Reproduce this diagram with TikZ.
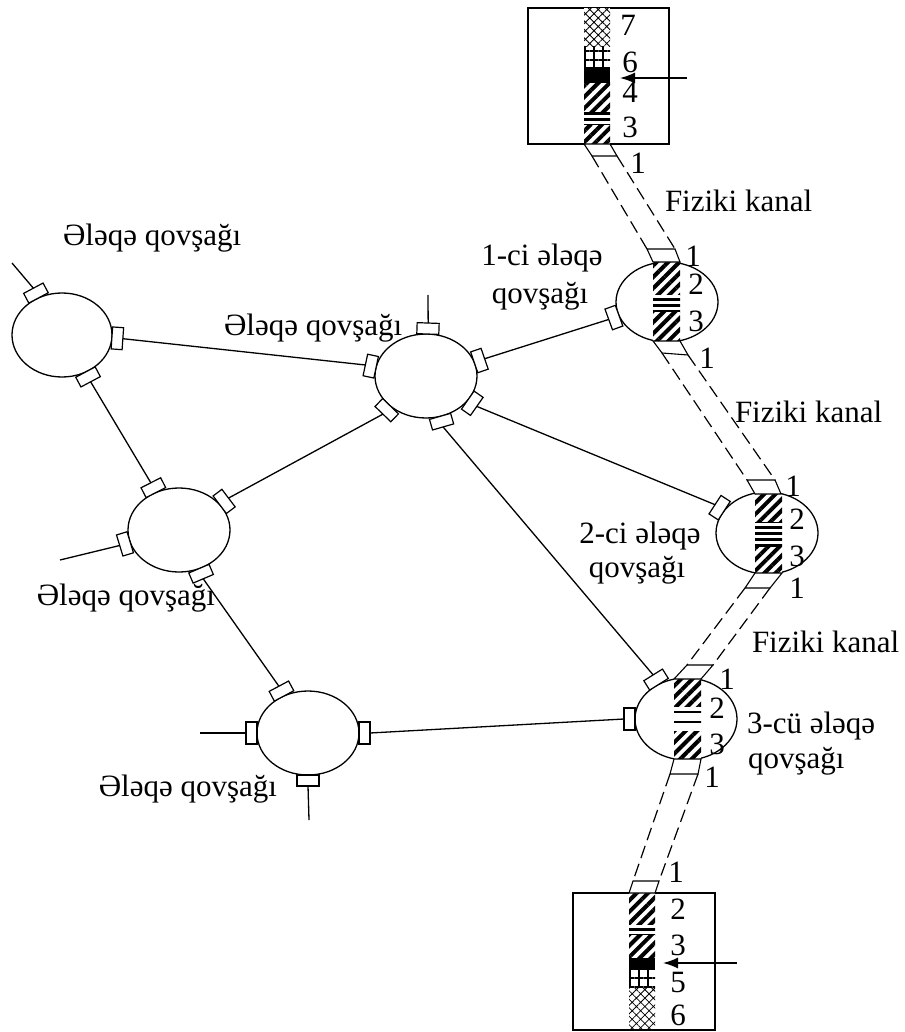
\documentclass[tikz,border=0pt]{standalone}
\usepackage{fontspec}
\setmainfont{Liberation Serif}
\usetikzlibrary{shapes.geometric,patterns.meta,arrows.meta,calc}
\begin{document}
\begin{tikzpicture}[x=1pt,y=1pt,line width=1.3pt,
  every node/.style={inner sep=0pt,outer sep=0pt},
  lbl/.style={font=\fontsize{31}{36}\selectfont},
  knot/.style={ellipse,draw,minimum width=102pt,minimum height=84pt},
  port/.style={rectangle,draw,fill=white,line width=1.2pt,minimum width=22pt,minimum height=11pt,anchor=south},
  chan/.style={dash pattern=on 13pt off 6pt,line width=1.2pt},
  chend/.style={draw,fill=white,line width=1.1pt},
  sdiag/.style={preaction={fill=white},pattern={Lines[angle=45,distance=8pt,line width=4pt]}},
  shl/.style={preaction={fill=white},pattern={Lines[angle=0,distance=6pt,line width=3pt]}},
  shlw/.style={preaction={fill=white},pattern={Lines[angle=0,distance=10pt,line width=2pt]}},
  sbox/.style={preaction={fill=white},pattern={Hatch[angle=0,distance=9pt,line width=1.2pt]}},
  sx/.style={preaction={fill=white},pattern={Hatch[angle=45,distance=6pt,line width=0.8pt]}},
  sblk/.style={fill=black},
  arr/.style={-{Latex[length=15pt,width=11pt]},line width=1.5pt}
]
\useasboundingbox (0,0) rectangle (904,-1032);

% knots
\node[knot,minimum width=100pt] (A) at (62,-335) {};
\node[knot] (B) at (426,-376) {};
\node[knot] (C) at (179,-530) {};
\node[knot] (D) at (308,-733) {};
\node[knot,minimum height=80pt] (N1) at (667,-302) {};
\node[knot,minimum height=82pt] (N2) at (767,-533) {};
\node[knot,minimum height=82pt] (N3) at (686,-719) {};

% terminal boxes
\node[draw,minimum width=141pt,minimum height=136pt] (T) at (598.5,-76) {};
\node[draw,minimum width=142pt,minimum height=137pt] (Bt) at (644,-961.5) {};

% strips
\path[sx]   (584,-8)   rectangle (610,-47);
\path[sbox] (584,-47)  rectangle (610,-67);
\path[sblk] (584,-67)  rectangle (610,-83);
\path[sdiag](584,-83)  rectangle (610,-113);
\path[shl]  (584,-113) rectangle (610,-125);
\path[sdiag](584,-125) rectangle (610,-144);

\path[sdiag](653,-262) rectangle (680,-295);
\path[shl]  (653,-295) rectangle (680,-312);
\path[sdiag](653,-312) rectangle (680,-341);

\path[sdiag](755,-494) rectangle (782,-522);
\path[shl]  (755,-522) rectangle (782,-547);
\path[sdiag](755,-547) rectangle (782,-573);

\path[sdiag](674,-679) rectangle (701,-707);
\path[shlw] (674,-707) rectangle (701,-731);
\path[sdiag](674,-731) rectangle (701,-759);

\path[sdiag](629,-893) rectangle (655,-925);
\path[shl]  (629,-925) rectangle (655,-935);
\path[sdiag](629,-935) rectangle (655,-958);
\path[sblk] (629,-958) rectangle (655,-970);
\path[sbox] (629,-970) rectangle (655,-988);
\path[sx]   (629,-988) rectangle (655,-1030);
\draw (573,-1030) -- (715,-1030);

% channel end pieces
\coordinate (a1) at (584,-144); \coordinate (a2) at (610,-144);
\coordinate (a3) at (617,-156); \coordinate (a4) at (592,-156);
\coordinate (b1) at (647,-249); \coordinate (b2) at (675,-249);
\coordinate (b3) at (680,-262); \coordinate (b4) at (653,-262);
\coordinate (c1) at (653,-341); \coordinate (c2) at (680,-341);
\coordinate (c3) at (688,-355); \coordinate (c4) at (662,-353);
\coordinate (d1) at (747,-480); \coordinate (d2) at (775,-480);
\coordinate (d3) at (781,-494); \coordinate (d4) at (755,-494);
\coordinate (e1) at (755,-573); \coordinate (e2) at (782,-573);
\coordinate (e3) at (770,-588); \coordinate (e4) at (745,-588);
\coordinate (f1) at (687,-665); \coordinate (f2) at (713,-665);
\coordinate (f3) at (701,-679); \coordinate (f4) at (674,-679);
\coordinate (g1) at (674,-759); \coordinate (g2) at (701,-759);
\coordinate (g3) at (698,-774); \coordinate (g4) at (670,-774);
\coordinate (h1) at (633,-881); \coordinate (h2) at (659,-881);
\coordinate (h3) at (655,-893); \coordinate (h4) at (629,-893);
\draw[chend] (a1) -- (a2) -- (a3) -- (a4) -- cycle;
\draw[chend] (b1) -- (b2) -- (b3) -- (b4) -- cycle;
\draw[chend] (c1) -- (c2) -- (c3) -- (c4) -- cycle;
\draw[chend] (d1) -- (d2) -- (d3) -- (d4) -- cycle;
\draw[chend] (e1) -- (e2) -- (e3) -- (e4) -- cycle;
\draw[chend] (f1) -- (f2) -- (f3) -- (f4) -- cycle;
\draw[chend] (g1) -- (g2) -- (g3) -- (g4) -- cycle;
\draw[chend] (h1) -- (h2) -- (h3) -- (h4) -- cycle;

% physical channels
\draw[chan] (a4) -- (b1); \draw[chan] (a3) -- (b2);
\draw[chan] (c4) -- (d1); \draw[chan] (c3) -- (d2);
\draw[chan] (e4) -- (f1); \draw[chan] (e3) -- (f2);
\draw[chan] (g4) -- (h1); \draw[chan] (g3) -- (h2);

% ports
\node[port,rotate=28]   (pA1) at ($(A.center)+(118:50pt and 42pt)$) {};
\node[port,rotate=-94]  (pA2) at ($(A.center)+(-4:50pt and 42pt)$) {};
\node[port,rotate=-152] (pA3) at ($(A.center)+(-62:50pt and 42pt)$) {};
\node[port,rotate=78]   (pB1) at ($(B.center)+(168:51pt and 42pt)$) {};
\node[port,rotate=-2]   (pB2) at ($(B.center)+(88:51pt and 42pt)$) {};
\node[port,rotate=-71]  (pB3) at ($(B.center)+(19:51pt and 42pt)$) {};
\node[port,rotate=136]  (pB4) at ($(B.center)+(226:51pt and 42pt)$) {};
\node[port,rotate=-125] (pB5) at ($(B.center)+(-35:51pt and 42pt)$) {};
\node[port,rotate=-164] (pB6) at ($(B.center)+(-74:51pt and 42pt)$) {};
\node[port,rotate=27]   (pC1) at ($(C.center)+(117:51pt and 42pt)$) {};
\node[port,rotate=-53]  (pC2) at ($(C.center)+(37:51pt and 42pt)$) {};
\node[port,rotate=107]  (pC3) at ($(C.center)+(197:51pt and 42pt)$) {};
\node[port,rotate=-157] (pC4) at ($(C.center)+(-67:51pt and 42pt)$) {};
\node[port,rotate=28]   (pD1) at ($(D.center)+(118:51pt and 42pt)$) {};
\node[port,rotate=90]   (pD2) at ($(D.center)+(180:51pt and 42pt)$) {};
\node[port,rotate=-90]  (pD3) at ($(D.center)+(0:51pt and 42pt)$) {};
\node[port,rotate=180]  (pD4) at ($(D.center)+(-90:51pt and 42pt)$) {};
\node[port,rotate=110]  (p1a) at ($(N1.center)+(200:51pt and 40pt)$) {};
\node[port,rotate=57]   (p2a) at ($(N2.center)+(147:51pt and 41pt)$) {};
\node[port,rotate=32]   (p3a) at ($(N3.center)+(122:51pt and 41pt)$) {};
\node[port,rotate=90]   (p3b) at ($(N3.center)+(180:51pt and 41pt)$) {};

% links
\draw (pA2.north) -- (pB1.north);
\draw (pA3.north) -- (pC1.north);
\draw (pC2.north) -- (pB4.north);
\draw (pC4.north) -- (pD1.north);
\draw (pB3.north) -- (p1a.north);
\draw (pB5.north) -- (p2a.north);
\draw (pB6.north) -- (p3a.north);
\draw (pD3.north) -- (p3b.north);
\coordinate (fA) at (12,-263);
\coordinate (fB) at (428,-295);
\coordinate (fC) at (60,-560);
\coordinate (fD1) at (200,-733);
\coordinate (fD2) at (309,-820);
\draw (pA1.north) -- (fA);
\draw (pB2.north) -- (fB);
\draw (pC3.north) -- (fC);
\draw (pD2.north) -- (fD1);
\draw (pD4.north) -- (fD2);

% arrows
\coordinate (ta0) at (687,-78); \coordinate (ta1) at (620,-78);
\coordinate (ba0) at (737,-963); \coordinate (ba1) at (663,-963);
\draw[arr] (ta0) -- (ta1);
\draw[arr] (ba0) -- (ba1);

% number labels
\node[lbl] (t7) at (628,-25) {7};
\node[lbl] (t6) at (630,-62) {6};
\node[lbl] (t4) at (630,-92) {4};
\node[lbl] (t3) at (630,-127) {3};
\node[lbl] (t1) at (638,-163) {1};
\node[lbl] (n1a) at (693,-256) {1};
\node[lbl] (n1b) at (696,-284) {2};
\node[lbl] (n1c) at (696,-321) {3};
\node[lbl] (n1d) at (707,-358) {1};
\node[lbl] (n2a) at (793,-486) {1};
\node[lbl] (n2b) at (797,-519) {2};
\node[lbl] (n2c) at (797,-556) {3};
\node[lbl] (n2d) at (797,-588) {1};
\node[lbl] (n3a) at (727,-679) {1};
\node[lbl] (n3b) at (717,-708) {2};
\node[lbl] (n3c) at (717,-744) {3};
\node[lbl] (n3d) at (712,-777) {1};
\node[lbl] (b1l) at (676,-872) {1};
\node[lbl] (b2l) at (678,-909) {2};
\node[lbl] (b3l) at (678,-945) {3};
\node[lbl] (b5l) at (678,-982) {5};
\node[lbl] (b6l) at (678,-1015) {6};

% text labels
\node[lbl,anchor=base west] (LA) at (63,-245) {Ələqə qovşağı};
\node[lbl,anchor=base west] (LB) at (224,-335) {Ələqə qovşağı};
\node[lbl,anchor=base east] (LC) at (215,-605) {Ələqə qovşağı};
\node[lbl,anchor=base east] (LD) at (277,-796) {Ələqə qovşağı};
\node[lbl,anchor=base] (L1a) at (542,-265) {1-ci ələqə};
\node[lbl,anchor=base] (L1b) at (540,-303) {qovşağı};
\node[lbl,anchor=base] (L2a) at (640,-543) {2-ci ələqə};
\node[lbl,anchor=base] (L2b) at (637,-577) {qovşağı};
\node[lbl,anchor=base west] (L3a) at (747,-733) {3-cü ələqə};
\node[lbl,anchor=base west] (L3b) at (748,-768) {qovşağı};
\node[lbl,anchor=base west] (K1) at (665,-212) {Fiziki kanal};
\node[lbl,anchor=base west] (K2) at (735,-422) {Fiziki kanal};
\node[lbl,anchor=base west] (K3) at (752,-652) {Fiziki kanal};
\end{tikzpicture}
\end{document}
